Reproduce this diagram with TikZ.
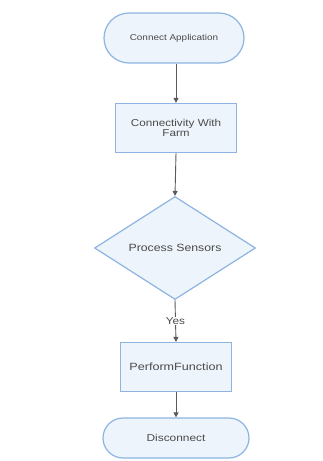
\documentclass[tikz,border=0pt]{standalone}
\usepackage{fontspec}
\setmainfont{Liberation Sans}
\usetikzlibrary{shapes.geometric,shapes.misc,arrows.meta}
\definecolor{boxfill}{HTML}{EEF4FB}
\definecolor{boxline}{HTML}{8DB4E2}
\definecolor{arr}{HTML}{5A5A5A}
\definecolor{txt}{HTML}{4A4A4A}
\newcommand{\wtxt}[2][1.17]{\scalebox{#1}[1]{#2}}
\tikzset{
  terminal/.style={draw=boxline, fill=boxfill, line width=1.2pt, rounded rectangle, minimum width=#1, minimum height=50pt, inner sep=0pt, text=txt},
  procbox/.style={draw=boxline, fill=boxfill, line width=1.2pt, rectangle, minimum height=49pt, inner sep=0pt, text=txt, align=center},
  decision/.style={draw=boxline, fill=boxfill, line width=1.2pt, diamond, aspect=1.57, minimum width=161pt, minimum height=103pt, inner sep=0pt, text=txt},
  flow/.style={draw=arr, line width=0.9pt, -{Triangle[length=5pt,width=5pt]}},
  lbl/.style={text=txt, font=\fontsize{10}{11}\selectfont}
}
\begin{document}
\begin{tikzpicture}[x=1pt,y=-1pt]
\useasboundingbox (0,0) rectangle (322,461);
\fill[white] (0,0) rectangle (322,461);
\node[terminal=140pt, font=\fontsize{8.5}{10}\selectfont] (start) at (174,38) {\wtxt{Connect Application}};
\node[procbox, minimum width=121pt, font=\fontsize{10}{10.5}\selectfont] (conn) at (176,128) {\wtxt{Connectivity With}\\\wtxt{Farm}};
\node[decision, font=\fontsize{10.5}{12}\selectfont] (proc) at (175,248) {\wtxt{Process Sensors}};
\node[procbox, minimum width=111pt, font=\fontsize{10.5}{12}\selectfont] (perf) at (176,367) {\wtxt[1.2]{PerformFunction}};
\node[terminal=146pt, minimum height=40pt, font=\fontsize{10}{11}\selectfont] (disc) at (176,438) {\wtxt[1.19]{Disconnect}};
\draw[flow] (start.south -| conn.north) -- (conn.north);
\draw[flow] (conn.south) -- (proc.north);
\draw[flow] (proc.south) -- node[lbl, fill=white, inner sep=1pt] {\wtxt{Yes}} (perf.north);
\draw[flow] (perf.south) -- (disc.north);
\end{tikzpicture}
\end{document}
